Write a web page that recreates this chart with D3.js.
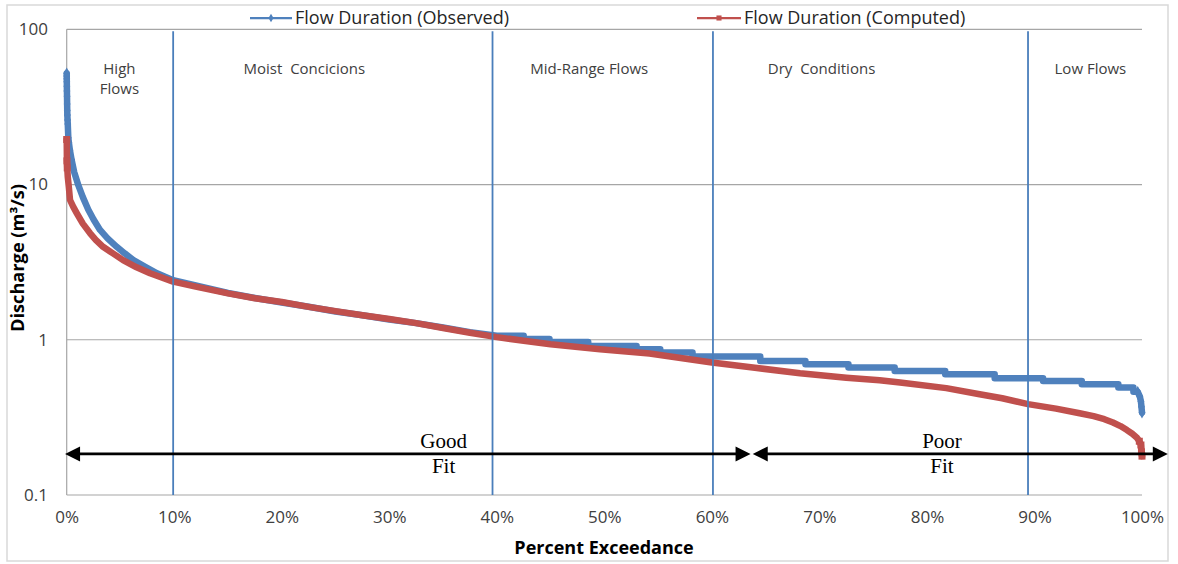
<!DOCTYPE html>
<html>
<head>
<meta charset="utf-8">
<script src="https://cdn.jsdelivr.net/npm/d3@7"></script>
<style>
  html, body { margin: 0; padding: 0; background: #fff; }
  svg { display: block; }
</style>
</head>
<body>
<svg id="chart" width="1178" height="564"></svg>
<script>
// Percent exceedance (%) and discharge (m3/s) for the observed record
const obsPct = [0, 0.003, 0.006, 0.01, 0.015, 0.02, 0.03, 0.04, 0.05, 0.06, 0.08, 0.1, 0.15, 0.2, 0.3, 0.46, 0.7, 1.08, 1.5, 2.0, 2.5, 3.1, 3.8, 4.65, 5.4, 6.2, 7.3, 8.4, 9.9,
  12, 15, 17.5, 20, 22.5, 25, 27.5, 30, 32.5, 35, 37.5, 40,
  42.5, 42.5, 44.9, 44.9, 48.5, 48.5, 53.0, 53.0, 55.2, 55.2, 58.2, 58.2, 64.5, 64.5, 68.7, 68.7, 72.7, 72.7, 77.0, 77.0, 81.7, 81.7, 86.3, 86.3, 90.8, 90.8, 94.4, 94.4, 97.8, 97.8, 99.2, 99.2,
  99.6, 99.8, 99.9, 99.95, 100];
const obsFlow = [52, 50, 48, 46, 43, 40, 37, 33, 30, 28, 26, 24.5, 20, 18.7, 16.6, 14.4, 12.0, 9.9, 8.3, 6.9, 5.95, 5.1, 4.5, 3.97, 3.6, 3.26, 2.95, 2.68, 2.42,
  2.24, 2.0, 1.86, 1.74, 1.63, 1.52, 1.44, 1.35, 1.28, 1.2, 1.12, 1.06,
  1.06, 1.01, 1.01, 0.968, 0.968, 0.912, 0.912, 0.869, 0.869, 0.827, 0.827, 0.78, 0.78, 0.73, 0.73, 0.696, 0.696, 0.663, 0.663, 0.63, 0.63, 0.60, 0.60, 0.565, 0.565, 0.543, 0.543, 0.516, 0.516, 0.492, 0.492, 0.462,
  0.462, 0.43, 0.40, 0.37, 0.34];

// Percent exceedance (%) and discharge (m3/s) for the model output
const compPct = [0, 0.02, 0.05, 0.1, 0.2, 0.31, 0.6, 0.93, 1.5, 2.16, 2.7, 3.38, 4.3, 5.24, 6.5, 7.75, 9.9, 12, 15, 17.5,
  20, 22.5, 25, 27.5, 30, 32.5, 35, 37.5, 40, 42.5, 45, 49.6, 54.2, 60, 64, 68.2, 72.5, 75.6, 77.5, 81.8,
  84.9, 87, 89.4, 92, 94.2, 95.5, 96.5, 97.3, 98.0, 98.6, 99.1, 99.5, 99.75, 99.9, 99.95, 100];
const compFlow = [19.5, 14.2, 12.8, 11.2, 9.6, 7.95, 7.2, 6.55, 5.6, 4.87, 4.4, 3.97, 3.6, 3.26, 2.93, 2.68, 2.37, 2.2, 1.99, 1.85,
  1.75, 1.63, 1.53, 1.44, 1.36, 1.28, 1.19, 1.11, 1.04, 0.985, 0.935, 0.87, 0.815, 0.713, 0.66, 0.609, 0.57, 0.549, 0.53, 0.488,
  0.446, 0.42, 0.385, 0.36, 0.336, 0.322, 0.308, 0.293, 0.278, 0.262, 0.248, 0.235, 0.222, 0.21, 0.19, 0.178];

const seriesNames = ["Flow Duration (Observed)", "Flow Duration (Computed)"];

// Axis ticks
const pctTicks = [0, 10, 20, 30, 40, 50, 60, 70, 80, 90, 100];
const pctTickLabels = ["0%", "10%", "20%", "30%", "40%", "50%", "60%", "70%", "80%", "90%", "100%"];
const flowTicks = [0.1, 1, 10, 100];
const flowTickLabels = ["0.1", "1", "10", "100"];

// Flow-regime zones: boundaries (%) and labels centred in each zone
const zoneBounds = [9.9, 39.6, 60.1, 89.4];
const zoneLabels = [["High", "Flows"], ["Moist  Concicions"], ["Mid-Range Flows"], ["Dry  Conditions"], ["Low Flows"]];
const zoneLabelPct = [4.9, 22.1, 48.6, 70.2, 95.2];

// Goodness-of-fit spans (%), drawn as double-headed arrows at a fixed discharge level
const fitLabels = [["Good", "Fit"], ["Poor", "Fit"]];
const fitStart = [-0.15, 63.8];
const fitEnd = [63.6, 102.4];
const fitLabelPct = [35.05, 81.4];
const fitLevel = 0.184;

const BLUE = "#4f81bd", RED = "#c0504d", ZONE = "#4a7ebb";
const SANS = "'Open Sans', 'Liberation Sans', sans-serif";
const SERIF = "'Liberation Serif', 'Times New Roman', serif";

const svg = d3.select("#chart");

// chart area frame
svg.append("rect").attr("x", 7).attr("y", 5).attr("width", 1161).attr("height", 556)
  .attr("fill", "#fff").attr("stroke", "#d9d9d9").attr("stroke-width", 1.5);

const x = d3.scaleLinear().domain([0, 100]).range([66.7, 1142]);
const y = d3.scaleLog().domain([0.1, 100]).range([495, 29.3]);

// horizontal gridlines
svg.append("g").selectAll("line").data(flowTicks).join("line")
  .attr("x1", x(0)).attr("x2", x(100))
  .attr("y1", d => y(d)).attr("y2", d => y(d))
  .attr("stroke", "#a6a6a6").attr("stroke-width", 1.2);

// left axis line
svg.append("line").attr("x1", x(0)).attr("x2", x(0)).attr("y1", y(100)).attr("y2", y(0.1))
  .attr("stroke", "#a6a6a6").attr("stroke-width", 1.2);

// y tick labels
const yAxis = d3.axisLeft(y).tickValues(flowTicks).tickSize(0).tickPadding(0)
  .tickFormat((d, i) => flowTickLabels[i]);
const yg = svg.append("g").attr("transform", "translate(48,0)").call(yAxis);
yg.select(".domain").remove();
yg.selectAll("text").attr("font-size", 17).attr("fill", "#404040").attr("font-family", SANS);

// x tick labels
const xAxis = d3.axisBottom(x).tickValues(pctTicks).tickSize(0).tickPadding(0)
  .tickFormat((d, i) => pctTickLabels[i]);
const xg = svg.append("g").attr("transform", "translate(0,511)").call(xAxis);
xg.select(".domain").remove();
xg.selectAll("text").attr("font-size", 17).attr("fill", "#404040").attr("font-family", SANS);

// axis titles
svg.append("text").attr("x", 604).attr("y", 554).attr("text-anchor", "middle")
  .attr("font-family", SANS).attr("font-size", 18).attr("font-weight", "bold").attr("fill", "#000")
  .text("Percent Exceedance");
svg.append("text").attr("transform", "translate(24,258) rotate(-90)").attr("text-anchor", "middle")
  .attr("font-family", SANS).attr("font-size", 17).attr("font-weight", "bold").attr("fill", "#000")
  .attr("textLength", 148).attr("lengthAdjust", "spacingAndGlyphs")
  .text("Discharge (m³/s)");

// series: dense daily points render as a thick band
const obsData = obsPct.map((p, i) => ({ p, v: obsFlow[i] }));
const compData = compPct.map((p, i) => ({ p, v: compFlow[i] }));
const line = d3.line().x(d => x(d.p)).y(d => y(d.v));

function drawSeries(data, color, symbolType, size) {
  const g = svg.append("g");
  g.append("path").datum(data).attr("d", line)
    .attr("fill", "none").attr("stroke", color).attr("stroke-width", 6.5)
    .attr("stroke-linejoin", "round").attr("stroke-linecap", "round");
  // markers on the sparse high-flow end points
  g.selectAll("path.m").data(data.filter(d => d.v > 12 || d.p >= 99.6)).join("path").attr("class", "m")
    .attr("transform", d => `translate(${x(d.p)},${y(d.v)})`)
    .attr("d", d3.symbol(symbolType, size)).attr("fill", color);
}
drawSeries(obsData, BLUE, d3.symbolDiamond, 40);
drawSeries(compData, RED, d3.symbolSquare, 49);

// zone boundaries
svg.append("g").selectAll("line").data(zoneBounds).join("line")
  .attr("x1", d => x(d)).attr("x2", d => x(d))
  .attr("y1", y(100) + 2).attr("y2", y(0.1))
  .attr("stroke", ZONE).attr("stroke-width", 1.8);

// zone labels
zoneLabels.forEach((lines, i) => {
  const t = svg.append("text").attr("text-anchor", "middle").attr("font-size", 15)
    .attr("font-family", SANS).attr("fill", "#404040").style("white-space", "pre");
  lines.forEach((s, k) => {
    t.append("tspan").attr("x", x(zoneLabelPct[i])).attr("y", 74 + k * 20).text(s);
  });
});

// fit arrows
const arrowG = svg.append("g");
const ay = y(fitLevel);
const head = 15, half = 7.5;
fitLabels.forEach((lab, i) => {
  const x0 = x(fitStart[i]), x1 = x(fitEnd[i]);
  arrowG.append("line").attr("x1", x0 + head - 1).attr("x2", x1 - head + 1)
    .attr("y1", ay).attr("y2", ay).attr("stroke", "#000").attr("stroke-width", 2.6);
  arrowG.append("path").attr("d", `M${x0},${ay}L${x0 + head},${ay - half}L${x0 + head},${ay + half}Z`).attr("fill", "#000");
  arrowG.append("path").attr("d", `M${x1},${ay}L${x1 - head},${ay - half}L${x1 - head},${ay + half}Z`).attr("fill", "#000");
  const cx = x(fitLabelPct[i]);
  arrowG.append("text").attr("x", cx).attr("y", 448).attr("text-anchor", "middle")
    .attr("font-family", SERIF).attr("font-size", 21).attr("fill", "#000").text(lab[0]);
  arrowG.append("text").attr("x", cx).attr("y", 473).attr("text-anchor", "middle")
    .attr("font-family", SERIF).attr("font-size", 21).attr("fill", "#000").text(lab[1]);
});

// legend
const legend = svg.append("g");
const legendItems = [
  { name: seriesNames[0], color: BLUE, sym: d3.symbolDiamond, size: 22, x0: 250, x1: 292 },
  { name: seriesNames[1], color: RED, sym: d3.symbolSquare, size: 26, x0: 697, x1: 741 }
];
legendItems.forEach(it => {
  legend.append("line").attr("x1", it.x0).attr("x2", it.x1).attr("y1", 18).attr("y2", 18)
    .attr("stroke", it.color).attr("stroke-width", 2.25);
  legend.append("path").attr("transform", `translate(${(it.x0 + it.x1) / 2},18)`)
    .attr("d", d3.symbol(it.sym, it.size)).attr("fill", it.color);
  legend.append("text").attr("x", it.x1 + 3).attr("y", 24).attr("font-family", SANS).attr("font-size", 18)
    .attr("fill", "#262626").text(it.name);
});
</script>
</body>
</html>
